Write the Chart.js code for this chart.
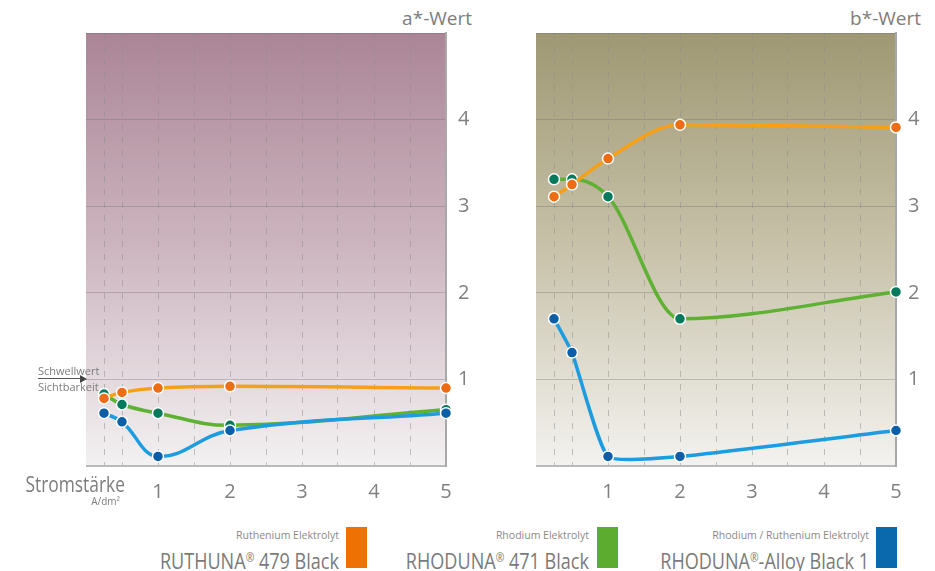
<!DOCTYPE html>
<html>
<head>
<meta charset="utf-8">
<script src="https://cdn.jsdelivr.net/npm/chart.js@4.4.0/dist/chart.umd.min.js"></script>
<style>
  body { margin: 0; background: #fff; font-family: "Open Sans", sans-serif; color: #7d7d7d; }
  #wrap { position: relative; width: 935px; height: 571px; overflow: hidden; }
  .box { position: absolute; }
  .title { position: absolute; font-size: 19px; text-align: right; width: 120px; line-height: 20px; }
  .leg-small { position: absolute; font-size: 10.5px; text-align: right; width: 260px; color: #8a8a8a; }
  .leg-big { position: absolute; font-size: 21px; text-align: right; width: 300px; color: #7a7a7a; line-height: 26px;
             transform: scaleX(0.86); transform-origin: right center; white-space: nowrap; }
  .leg-big sup { font-size: 12px; vertical-align: 7px; }
  .swatch { position: absolute; width: 21px; height: 41px; }
</style>
</head>
<body>
<div id="wrap">
  <div class="title" style="left:352px; top:8px;">a*-Wert</div>
  <div class="title" style="left:801px; top:8px;">b*-Wert</div>

  <div class="box" style="left:86px; top:23px; width:400px; height:490px;"><canvas id="chartA"></canvas></div>
  <div class="box" style="left:536px; top:23px; width:400px; height:490px;"><canvas id="chartB"></canvas></div>

  <!-- threshold marker -->
  <div style="position:absolute; left:38px; top:364px; font-size:11px; line-height:13px;">Schwellwert</div>
  <div style="position:absolute; left:38px; top:378px; width:43px; height:0; border-top:1px solid #555;"></div>
  <div style="position:absolute; left:80px; top:375px; width:0; height:0; border-top:4px solid transparent; border-bottom:4px solid transparent; border-left:7px solid #444;"></div>
  <div style="position:absolute; left:38px; top:380px; font-size:11px; line-height:13px;">Sichtbarkeit</div>

  <div style="position:absolute; left:0px; top:470px; width:121px; text-align:right; font-size:22px; line-height:26px; transform:scaleX(0.79); transform-origin:right center;">Stromstärke</div>
  <div style="position:absolute; left:60px; top:495px; width:60px; text-align:right; font-size:10px; line-height:12px;">A/dm²</div>

  <div class="leg-small" style="left:79px; top:528px;">Ruthenium Elektrolyt</div>
  <div class="leg-big" style="left:39px; top:545px;">RUTHUNA<sup>®</sup> 479 Black</div>
  <div class="swatch" style="left:346px; top:527px; background:#ee7203;"></div>

  <div class="leg-small" style="left:329px; top:528px;">Rhodium Elektrolyt</div>
  <div class="leg-big" style="left:289px; top:545px;">RHODUNA<sup>®</sup> 471 Black</div>
  <div class="swatch" style="left:597px; top:527px; background:#5cad2f;"></div>

  <div class="leg-small" style="left:609px; top:528px;">Rhodium / Ruthenium Elektrolyt</div>
  <div class="leg-big" style="left:569px; top:545px;">RHODUNA<sup>®</sup>-Alloy Black 1</div>
  <div class="swatch" style="left:876px; top:527px; background:#0a68ad;"></div>
</div>

<script>
// Stromstärke A/dm²
const currents = [0.25, 0.5, 1, 2, 5];
const gridX = [0.25, 0.5, 1, 1.5, 2, 2.5, 3, 3.5, 4, 4.5, 5];
const yTicks = [0, 1, 2, 3, 4, 5];

// a*-Wert
const aRuthuna = [0.78, 0.85, 0.90, 0.92, 0.90];
const aRhoduna = [0.83, 0.71, 0.61, 0.47, 0.65];
const aAlloy   = [0.61, 0.51, 0.11, 0.41, 0.61];

// b*-Wert
const bRuthuna = [3.11, 3.25, 3.55, 3.94, 3.91];
const bRhoduna = [3.31, 3.31, 3.11, 1.70, 2.01];
const bAlloy   = [1.70, 1.31, 0.11, 0.11, 0.41];

function pts(vals) {
  return currents.map((x, i) => ({ x: x, y: vals[i] }));
}

function series(label, vals, line, point, order, curve) {
  return Object.assign({
    label: label,
    data: pts(vals),
    borderColor: line,
    borderWidth: 3.5,
    pointBackgroundColor: point,
    pointBorderColor: "#ffffff",
    pointBorderWidth: 1.5,
    pointRadius: 5.5,
    tension: 0.4,
    order: order,
    clip: false
  }, curve || {});
}

const bgPlugin = {
  id: "bg",
  beforeDraw(chart, args, opts) {
    const a = chart.chartArea, ctx = chart.ctx;
    const g = ctx.createLinearGradient(0, a.top, 0, a.bottom);
    g.addColorStop(0, opts.top);
    g.addColorStop(0.5, opts.mid);
    g.addColorStop(1, opts.bottom);
    ctx.save();
    ctx.fillStyle = g;
    ctx.fillRect(a.left, a.top, a.right - a.left, a.bottom - a.top);
    ctx.restore();
  }
};

function makeChart(id, r, g, b, colors, curves) {
  new Chart(document.getElementById(id), {
    type: "line",
    data: {
      datasets: [
        series("RUTHUNA 479 Black", r, "#f6a01a", "#ec6d14", 1, curves[0]),
        series("RHODUNA-Alloy Black 1", b, "#1d9ddf", "#0c5fa6", 2, curves[2]),
        series("RHODUNA 471 Black", g, "#5eb132", "#037a5c", 3, curves[1])
      ]
    },
    plugins: [bgPlugin],
    options: {
      responsive: true,
      maintainAspectRatio: false,
      animation: false,
      layout: { autoPadding: false, padding: { top: 10, left: 0, right: 0, bottom: 0 } },
      plugins: {
        legend: { display: false },
        tooltip: { enabled: false },
        bg: colors
      },
      scales: {
        x: {
          type: "linear",
          min: 0,
          max: 5,
          afterBuildTicks: s => { s.ticks = gridX.map(v => ({ value: v })); },
          afterFit: s => { s.height = 47; s.paddingLeft = 0; s.paddingRight = 0; },
          grid: {
            color: "rgba(140,140,140,0.5)",
            lineWidth: 1,
            drawTicks: false
          },
          border: { display: true, color: "#b9b9b9", width: 2, dash: [6, 7] },
          ticks: {
            padding: 14,
            autoSkip: false,
            maxRotation: 0,
            color: "#808080",
            font: { family: "Open Sans", size: 20 },
            callback: v => (Number.isInteger(v) && v > 0 ? String(v) : "")
          }
        },
        y: {
          type: "linear",
          position: "right",
          min: 0,
          max: 5,
          afterBuildTicks: s => { s.ticks = yTicks.map(v => ({ value: v })); },
          afterFit: s => { s.width = 40; s.paddingTop = 0; s.paddingBottom = 0; },
          grid: { color: "rgba(110,110,110,0.35)", lineWidth: 1, drawTicks: false },
          border: { display: true, color: "#a8a8a8", width: 2 },
          ticks: {
            padding: 12,
            color: "#808080",
            font: { family: "Open Sans", size: 20 },
            callback: v => (v >= 1 && v <= 4 ? String(v) : "")
          }
        }
      }
    }
  });
}

makeChart("chartA", aRuthuna, aRhoduna, aAlloy,
  { top: "#ab8596", mid: "#cdb6c0", bottom: "#f3f1f2" },
  [null, null, null]);
makeChart("chartB", bRuthuna, bRhoduna, bAlloy,
  { top: "#9f9873", mid: "#c8c2aa", bottom: "#f3f2ef" },
  [{ cubicInterpolationMode: "monotone" }, { cubicInterpolationMode: "monotone" }, { tension: 0.15 }]);
</script>
</body>
</html>
